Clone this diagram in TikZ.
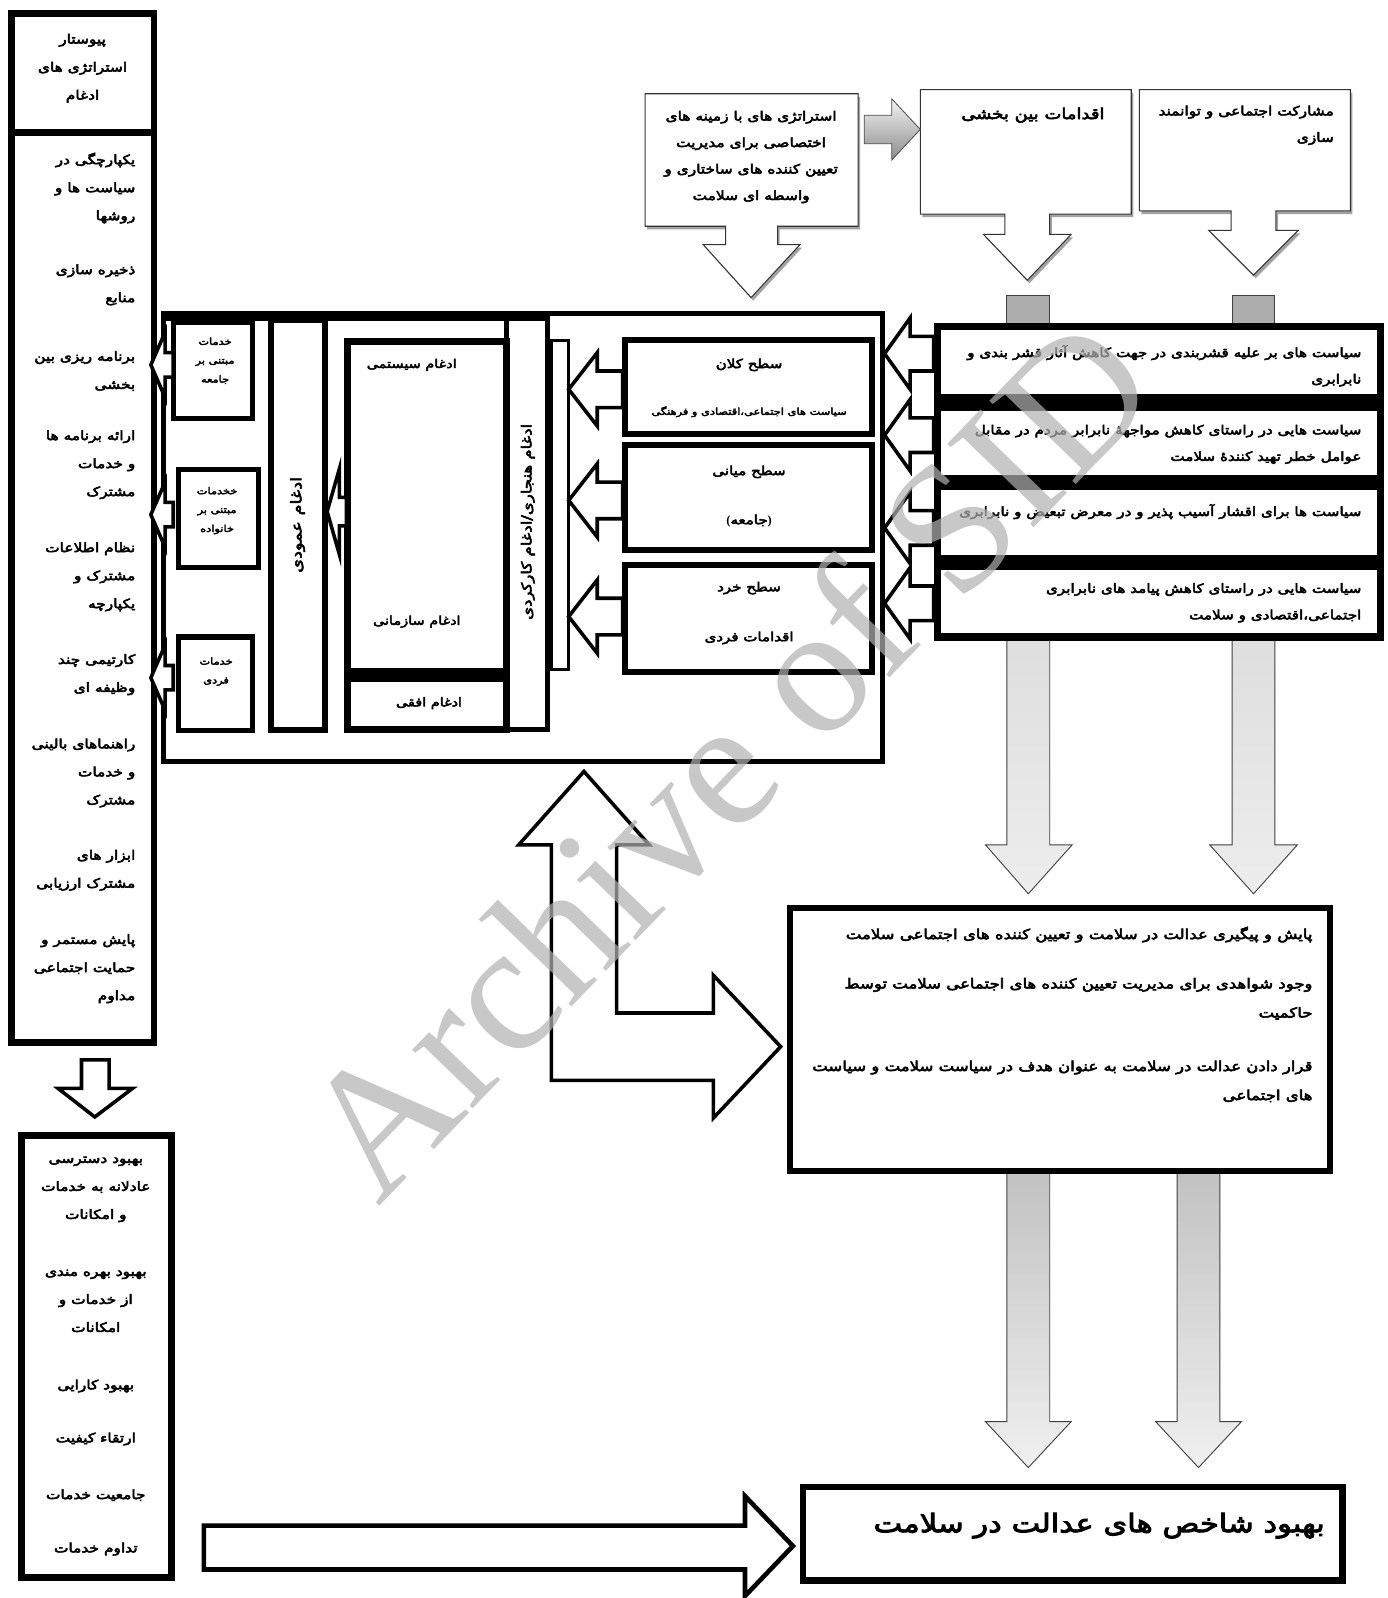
\documentclass[tikz,border=0pt]{standalone}
\usepackage{fontspec}
\setmainfont{Liberation Serif}
\newfontfamily\arabicfont[Script=Arabic, FakeBold=3.8, FakeStretch=1.2]{DejaVu Sans}
\TeXXeTstate=1
\newcommand{\ar}[1]{\beginR #1\endR}
\usetikzlibrary{shadows}
\tikzset{
  colt/.style={font=\arabicfont\fontsize{12.6}{27.5}\selectfont, inner sep=0pt},
  smallt/.style={font=\arabicfont\fontsize{9.3}{18.5}\selectfont, inner sep=0pt, align=center},
  midt/.style={font=\arabicfont\fontsize{11.8}{20}\selectfont, inner sep=0pt},
  levt/.style={font=\arabicfont\fontsize{9.3}{20}\selectfont, inner sep=0pt},
  lvt/.style={font=\arabicfont\fontsize{12.3}{20}\selectfont, inner sep=0pt},
  polt/.style={font=\arabicfont\fontsize{12.4}{26}\selectfont, inner sep=0pt, align=right, anchor=east},
  bigt/.style={font=\arabicfont\fontsize{13.5}{28.5}\selectfont, inner sep=0pt, align=right, anchor=east},
  calt/.style={font=\arabicfont\fontsize{12.6}{26}\selectfont, inner sep=0pt},
  thickbox/.style={draw=black, line width=6pt, fill=white},
  medbox/.style={draw=black, line width=5pt, fill=white},
  hollow/.style={draw=black, line width=3.5pt, fill=white, line join=miter},
  greyarr/.style={draw=black!75, line width=0.9pt, top color=black!20, bottom color=black!7},
  stub/.style={draw=black!75, line width=0.9pt, fill=black!32},
  callout/.style={draw=black!80, line width=1pt, fill=white, drop shadow={shadow xshift=2pt, shadow yshift=-3pt, fill=black!45, opacity=0.8}},
}
\begin{document}
\begin{tikzpicture}[x=1pt,y=-1pt]
\useasboundingbox (0,0) rectangle (1361,1568);
\fill[white] (0,0) rectangle (1361,1568);

% ---------- grey down arrows (behind) ----------
\draw[greyarr] (988,318) -- (1030,318) -- (1030,829) -- (1052,829) -- (1009,877) -- (967,829) -- (988,829) -- cycle;
\draw[greyarr] (1209,318) -- (1251,318) -- (1251,829) -- (1273,829) -- (1230,877) -- (1187,829) -- (1209,829) -- cycle;
\draw[stub] (988,320) -- (988,290) -- (1030,290) -- (1030,320);
\draw[stub] (1209,320) -- (1209,290) -- (1251,290) -- (1251,320);
\draw[greyarr, top color=black!24, bottom color=black!6] (988,1150) -- (1030,1150) -- (1030,1395) -- (1051,1395) -- (1009,1440) -- (967,1395) -- (988,1395) -- cycle;
\draw[greyarr, top color=black!24, bottom color=black!6] (1155,1150) -- (1197,1150) -- (1197,1395) -- (1218,1395) -- (1176,1440) -- (1134,1395) -- (1155,1395) -- cycle;

% ---------- top callouts ----------
\draw[callout] (633,92) -- (842,92) -- (842,222) -- (763,222) -- (763,240) -- (785,240) -- (737,292) -- (690,240) -- (712,240) -- (712,222) -- (633,222) -- cycle;
\draw[callout] (903,88) -- (1110,88) -- (1110,210) -- (1030,210) -- (1030,230) -- (1051,230) -- (1008,275) -- (965,230) -- (986,230) -- (986,210) -- (903,210) -- cycle;
\draw[callout] (1118,88) -- (1325,88) -- (1325,207) -- (1252,207) -- (1252,226) -- (1274,226) -- (1230,270) -- (1186,226) -- (1208,226) -- (1208,207) -- (1118,207) -- cycle;
\draw[draw=black!70, line width=0.8pt, top color=black!5, bottom color=black!45] (848,113) -- (875,113) -- (875,97) -- (903,127) -- (875,157) -- (875,141) -- (848,141) -- cycle;

\node[calt, align=center] (ca) at (737,154) {\ar{استراتژی های با زمینه های}\\\ar{اختصاصی برای مدیریت}\\\ar{تعیین کننده های ساختاری و}\\\ar{واسطه ای سلامت}};
\node[font=\arabicfont\fontsize{14.7}{20}\selectfont, inner sep=0pt, anchor=east] (cb) at (1084,113) {\ar{اقدامات بین بخشی}};
\node[calt, align=right, anchor=east] (cc) at (1309,123) {\ar{مشارکت اجتماعی و توانمند}\\\ar{سازی}};

% ---------- left column ----------
\draw[line width=6.5pt] (11,13) rectangle (151,1023);
\draw[line width=6.5pt] (11,130) -- (151,130);
\node[colt, align=center] (ttl) at (81,67) {\ar{پیوستار}\\\ar{استراتژی های}\\\ar{ادغام}};
\node[colt, align=right, anchor=east] (l1) at (133,184.5) {\ar{یکپارچگی در}\\\ar{سیاست ها و}\\\ar{روشها}};
\node[colt, align=right, anchor=east] (l2) at (133,279.5) {\ar{ذخیره سازی}\\\ar{منابع}};
\node[colt, align=right, anchor=east] (l3) at (133,364) {\ar{برنامه ریزی بین}\\\ar{بخشی}};
\node[colt, align=right, anchor=east] (l4) at (133,456) {\ar{ارائه برنامه ها}\\\ar{و خدمات}\\\ar{مشترک}};
\node[colt, align=right, anchor=east] (l5) at (133,566) {\ar{نظام اطلاعات}\\\ar{مشترک و}\\\ar{یکپارچه}};
\node[colt, align=right, anchor=east] (l6) at (133,662) {\ar{کارتیمی چند}\\\ar{وظیفه ای}};
\node[colt, align=right, anchor=east] (l7) at (133,758.5) {\ar{راهنماهای بالینی}\\\ar{و خدمات}\\\ar{مشترک}};
\node[colt, align=right, anchor=east] (l8) at (133,854) {\ar{ابزار های}\\\ar{مشترک ارزیابی}};
\node[colt, align=right, anchor=east] (l9) at (133,950.5) {\ar{پایش مستمر و}\\\ar{حمایت اجتماعی}\\\ar{مداوم}};

% down arrow and bottom-left box
\draw[hollow] (80,1040) -- (107,1040) -- (107,1068) -- (130,1068) -- (93,1096) -- (57,1068) -- (80,1068) -- cycle;
\draw[line width=6.5pt] (21,1114) rectangle (168,1548);
\node[colt, align=center] (b1) at (94,1167) {\ar{بهبود دسترسی}\\\ar{عادلانه به خدمات}\\\ar{و امکانات}};
\node[colt, align=center] (b2) at (94,1276.5) {\ar{بهبود بهره مندی}\\\ar{از خدمات و}\\\ar{امکانات}};
\node[colt] (b3) at (94,1360) {\ar{بهبود کارایی}};
\node[colt] (b4) at (94,1412) {\ar{ارتقاء کیفیت}};
\node[colt] (b5) at (94,1467) {\ar{جامعیت خدمات}};
\node[colt] (b6) at (94,1520) {\ar{تداوم خدمات}};

% ---------- middle frame ----------
\draw[line width=5pt, fill=white] (160,308) rectangle (866,747);
\draw[line width=8pt] (160,311) -- (537,311);
\draw[medbox] (170,316) rectangle (248,411);
\draw[medbox] (175,461) rectangle (254,557);
\draw[medbox] (175,625) rectangle (248,717);
\node[smallt] (s1) at (211,354) {\ar{خدمات}\\\ar{مبتنی بر}\\\ar{جامعه}};
\node[smallt] (s2) at (213,501) {\ar{خخدمات}\\\ar{مبتنی بر}\\\ar{خانواده}};
\node[smallt] (s3) at (212,659) {\ar{خدمات}\\\ar{فردی}};

% vertical integration bar
\draw[thickbox] (266,314) rectangle (319,716);
\node[font=\arabicfont\fontsize{14.5}{20}\selectfont, inner sep=0pt, rotate=90] (vert) at (292,515) {\ar{ادغام عمودی}};
% normative / functional bar
\draw[line width=5pt, fill=white] (497,312) rectangle (537,716);
\node[font=\arabicfont\fontsize{13.5}{20}\selectfont, inner sep=0pt, rotate=90] (norm) at (518,512) {\ar{ادغام هنجاری/ادغام کارکردی}};
% systemic box
\draw[line width=7pt, fill=white] (341,335) rectangle (497,716);
\fill[black] (341,655) rectangle (497,669);
\node[midt] (sys) at (404,358) {\ar{ادغام سیستمی}};
\node[midt] (org) at (409,610) {\ar{ادغام سازمانی}};
\node[midt] (hor) at (421,690) {\ar{ادغام افقی}};
% narrow bar
\draw[line width=3pt, fill=white] (541,334) rectangle (558,657);
% level boxes
\draw[thickbox] (613,334) rectangle (856,426);
\draw[thickbox] (613,437) rectangle (856,540);
\draw[thickbox] (613,554) rectangle (856,659);
\node[lvt] (lv1) at (735,358) {\ar{سطح کلان}};
\node[levt] (lv1b) at (735,404) {\ar{سیاست های اجتماعی،اقتصادی و فرهنگی}};
\node[lvt] (lv2) at (735,463) {\ar{سطح میانی}};
\node[lvt] (lv2b) at (735,511) {{\rmfamily\bfseries(}\ar{جامعه}{\rmfamily\bfseries)}};
\node[lvt] (lv3) at (735,577) {\ar{سطح خرد}};
\node[lvt] (lv3b) at (735,626) {\ar{اقدامات فردی}};
% level arrows
\foreach \yy in {382,491,605}{
  \draw[hollow] (611,\yy-18) -- (586,\yy-18) -- (586,\yy-36) -- (558,\yy) -- (586,\yy+36) -- (586,\yy+18) -- (611,\yy+18) -- cycle;
}
% systemic -> vertical arrow
\draw[hollow] (340,488) -- (333,488) -- (333,460) -- (321,502) -- (333,544) -- (333,516) -- (340,516) -- cycle;
% small boxes -> left column arrows
\foreach \yy in {358,505,665}{
  \draw[hollow] (170,\yy-12) -- (162,\yy-12) -- (162,\yy-32) -- (148,\yy) -- (162,\yy+32) -- (162,\yy+12) -- (170,\yy+12) -- cycle;
}

% ---------- policy block ----------
\fill[black] (916,317) rectangle (1358,629);
\fill[white] (923,324) rectangle (1351,387);
\fill[white] (923,403) rectangle (1351,466);
\fill[white] (923,481) rectangle (1351,545);
\fill[white] (923,559) rectangle (1351,621);
\foreach \yy in {347,427,518,592}{
  \draw[hollow] (916,\yy-17) -- (893,\yy-17) -- (893,\yy-35) -- (868,\yy) -- (893,\yy+35) -- (893,\yy+17) -- (916,\yy+17) -- cycle;
}
\node[polt] (p1) at (1336,359) {\ar{سیاست های بر علیه قشربندی در جهت کاهش آثار  قشر بندی و}\\\ar{نابرابری}};
\node[polt] (p2) at (1336,436) {\ar{سیاست هایی در راستای کاهش مواجههٔ نابرابر مردم در مقابل}\\\ar{عوامل خطر تهید کنندهٔ سلامت}};
\node[polt] (p3) at (1336,502) {\ar{سیاست ها برای اقشار آسیب پذیر و در معرض تبعیض و نابرابری}};
\node[polt] (p4) at (1336,591.5) {\ar{سیاست هایی در راستای کاهش پیامد های نابرابری}\\\ar{اجتماعی،اقتصادی و سلامت}};

% ---------- L shaped double arrow ----------
\draw[hollow] (573,757) -- (637,829) -- (605,829) -- (605,994) -- (700,994) -- (700,957) -- (766,1027) -- (700,1097) -- (700,1060) -- (541,1060) -- (541,829) -- (509,829) -- cycle;

% ---------- result box ----------
\draw[line width=6.5pt, fill=white] (775,891) rectangle (1305,1149);
\node[bigt] (r1) at (1288,917) {\ar{پایش و پیگیری عدالت در سلامت و تعیین کننده های اجتماعی سلامت}};
\node[bigt] (r2) at (1288,980) {\ar{وجود شواهدی برای مدیریت تعیین کننده های اجتماعی سلامت توسط}\\\ar{حاکمیت}};
\node[bigt] (r3) at (1288,1061) {\ar{قرار دادن عدالت در سلامت به عنوان هدف در سیاست سلامت و سیاست}\\\ar{های اجتماعی}};

% ---------- final ----------
\draw[hollow, line width=4.5pt] (200,1497) -- (731,1497) -- (731,1468) -- (778,1517) -- (731,1566) -- (731,1540) -- (200,1540) -- cycle;
\draw[line width=6.5pt, fill=white] (788,1459) rectangle (1317,1551);
\node[font=\arabicfont\fontsize{25}{30}\selectfont, inner sep=0pt, anchor=east] (fin) at (1300,1497) {\ar{بهبود شاخص های عدالت در سلامت}};

% ---------- watermark ----------
\node[rotate=46, font=\fontsize{180}{180}\selectfont, text=black!30, opacity=0.7, inner sep=0pt] (wm) at (712,742) {Archive of SID};
\end{tikzpicture}
\end{document}
